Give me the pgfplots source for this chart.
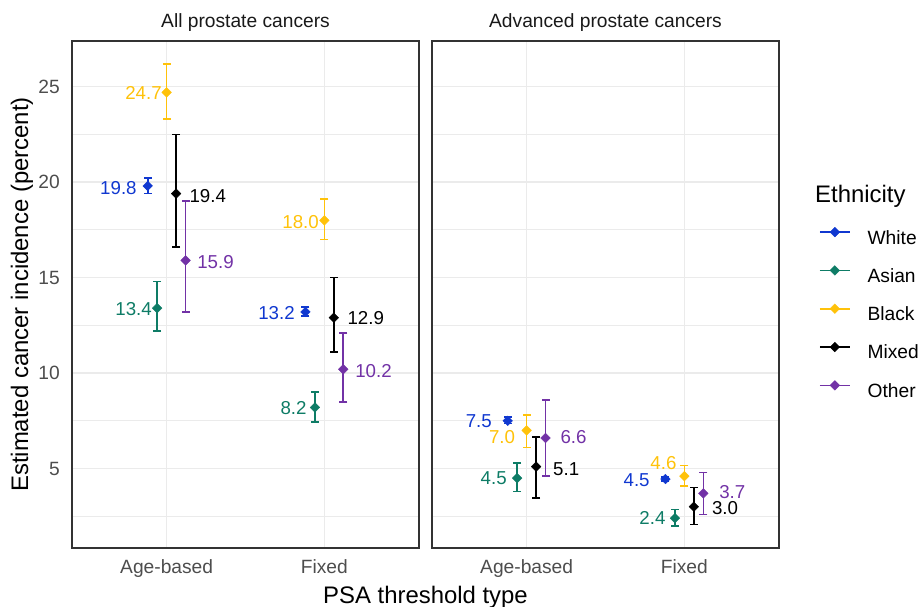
\documentclass[border=0pt]{standalone}
\usepackage{pgfplots}
\pgfplotsset{compat=1.18}
\usepackage{pgfplotstable}
\usepackage{fontspec}
\setmainfont{Liberation Sans}
\definecolor{cW}{HTML}{1038D0}
\definecolor{cA}{HTML}{0E7C66}
\definecolor{cB}{HTML}{FFC20A}
\definecolor{cM}{HTML}{000000}
\definecolor{cO}{HTML}{7232A6}
\definecolor{gridc}{HTML}{EBEBEB}
\definecolor{tickc}{HTML}{4D4D4D}
\definecolor{framec}{HTML}{333333}
\newcommand{\tickfont}{\fontsize{19.2bp}{22bp}\selectfont}
\newcommand{\titlefont}{\fontsize{23.9bp}{27bp}\selectfont}
\newcommand{\lblfont}{\fontsize{18.7bp}{21bp}\selectfont}

% point estimates: x position (dodged), all cancers, advanced cancers
\pgfplotstableread{
x    all  adv
0.88 19.8 7.5
1.88 13.2 4.45
}\tW
\pgfplotstableread{
x    all  adv
0.94 13.4 4.5
1.94 8.2  2.4
}\tA
\pgfplotstableread{
x    all  adv
1.00 24.7 7.0
2.00 18.0 4.6
}\tB
\pgfplotstableread{
x    all  adv
1.06 19.4 5.1
2.06 12.9 3.0
}\tM
\pgfplotstableread{
x    all  adv
1.12 15.9 6.6
2.12 10.2 3.7
}\tO

\tikzset{lb/.style={inner sep=0pt, text=#1}}
\pgfplotsset{
  ci/.style={forget plot, draw=#1, line width=1.6bp, solid, mark=-, mark size=4bp,
    mark options={draw=#1, solid, line width=1.6bp}},
  pts/.style={forget plot, only marks, mark=square*, mark size=3.4bp,
    mark options={rotate=45, fill=#1, draw=#1, line width=0.4bp}},
  panel/.style={
    scale only axis, width=347bp, height=507bp,
    xmin=0.4, xmax=2.6, ymin=0.84, ymax=27.39,
    xtick={1,2}, xticklabels={Age-based,Fixed},
    ytick={5,10,15,20,25}, minor ytick={2.5,7.5,12.5,17.5,22.5,27.5},
    major tick length=0pt, minor tick length=0pt,
    xmajorgrids, ymajorgrids, yminorgrids,
    major grid style={draw=gridc, line width=1.6bp},
    minor grid style={draw=gridc, line width=0.9bp},
    axis line style={draw=framec, line width=1.1bp},
    tick label style={font=\tickfont, text=tickc, inner sep=0pt},
    xticklabel style={yshift=-11.3bp},
    yticklabel style={xshift=-12bp},
    /pgf/number format/assume math mode=true,
    unbounded coords=jump,
    clip=false,
  },
}

\begin{document}
\begin{tikzpicture}[x=1bp,y=1bp]
\path[use as bounding box] (0,0) rectangle (919,607);

% ---------- left panel: all prostate cancers ----------
\begin{axis}[panel, at={(72bp,59bp)}, anchor=south west]
% 95% intervals (low, high)
\addplot[ci=cW] table {
x y
0.88 19.4
0.88 20.2
0.88 nan
1.88 13.0
1.88 13.45
};
\addplot[ci=cA] table {
x y
0.94 12.2
0.94 14.8
0.94 nan
1.94 7.45
1.94 9.0
};
\addplot[ci=cB] table {
x y
1.00 23.3
1.00 26.2
1.00 nan
2.00 17.0
2.00 19.1
};
\addplot[ci=cM] table {
x y
1.06 16.6
1.06 22.5
1.06 nan
2.06 11.1
2.06 15.0
};
\addplot[ci=cO] table {
x y
1.12 13.2
1.12 19.0
1.12 nan
2.12 8.5
2.12 12.1
};
\addplot[pts=cW] table[x=x, y=all] {\tW};
\addplot[pts=cA] table[x=x, y=all] {\tA};
\addplot[pts=cB] table[x=x, y=all] {\tB};
\addplot[pts=cM] table[x=x, y=all] {\tM};
\addplot[pts=cO] table[x=x, y=all] {\tO};
\node[lb=cB, anchor=east] at (axis cs:0.970,24.65) {\lblfont 24.7};
\node[lb=cW, anchor=east] at (axis cs:0.811,19.68) {\lblfont 19.8};
\node[lb=cM, anchor=west] at (axis cs:1.144,19.26) {\lblfont 19.4};
\node[lb=cO, anchor=west] at (axis cs:1.193,15.81) {\lblfont 15.9};
\node[lb=cA, anchor=east] at (axis cs:0.907,13.34) {\lblfont 13.4};
\node[lb=cB, anchor=east] at (axis cs:1.966,17.90) {\lblfont 18.0};
\node[lb=cW, anchor=east] at (axis cs:1.813,13.14) {\lblfont 13.2};
\node[lb=cM, anchor=west] at (axis cs:2.146,12.88) {\lblfont 12.9};
\node[lb=cO, anchor=west] at (axis cs:2.195,10.10) {\lblfont 10.2};
\node[lb=cA, anchor=east] at (axis cs:1.888,8.18) {\lblfont 8.2};
\end{axis}

% ---------- right panel: advanced prostate cancers ----------
\begin{axis}[panel, at={(432bp,59bp)}, anchor=south west, yticklabels={},
  legend style={at={(axis description cs:1.1153,0.6325)}, anchor=north west,
    draw=none, fill=none, inner sep=0pt, outer sep=0pt, column sep=17bp, row sep=17.6bp,
    font=\tickfont, nodes={inner sep=0pt, text height=14bp, text depth=4bp}},
  legend cell align=left,
  legend image code/.code={\draw[#1, line width=1.6bp] (0bp,6.9bp) -- (30bp,6.9bp);
     \path[#1] plot[mark=square*, mark size=3.4bp, mark options={rotate=45}] coordinates {(15bp,6.9bp)};},
]
\addlegendimage{color=cW, fill=cW}
\addlegendimage{color=cA, fill=cA}
\addlegendimage{color=cB, fill=cB}
\addlegendimage{color=cM, fill=cM}
\addlegendimage{color=cO, fill=cO}
\legend{White,Asian,Black,Mixed,Other}
\addplot[ci=cW] table {
x y
0.88 7.35
0.88 7.7
0.88 nan
1.88 4.35
1.88 4.55
};
\addplot[ci=cA] table {
x y
0.94 3.8
0.94 5.3
0.94 nan
1.94 2.0
1.94 2.85
};
\addplot[ci=cB] table {
x y
1.00 6.1
1.00 7.8
1.00 nan
2.00 4.1
2.00 5.15
};
\addplot[ci=cM] table {
x y
1.06 3.45
1.06 6.65
1.06 nan
2.06 2.07
2.06 4.0
};
\addplot[ci=cO] table {
x y
1.12 4.6
1.12 8.6
1.12 nan
2.12 2.6
2.12 4.8
};
\addplot[pts=cW] table[x=x, y=adv] {\tW};
\addplot[pts=cA] table[x=x, y=adv] {\tA};
\addplot[pts=cB] table[x=x, y=adv] {\tB};
\addplot[pts=cM] table[x=x, y=adv] {\tM};
\addplot[pts=cO] table[x=x, y=adv] {\tO};
\node[lb=cW, anchor=east] at (axis cs:0.780,7.48) {\lblfont 7.5};
\node[lb=cB, anchor=east] at (axis cs:0.928,6.66) {\lblfont 7.0};
\node[lb=cO, anchor=west] at (axis cs:1.214,6.63) {\lblfont 6.6};
\node[lb=cM, anchor=west] at (axis cs:1.167,4.96) {\lblfont 5.1};
\node[lb=cA, anchor=east] at (axis cs:0.875,4.49) {\lblfont 4.5};
\node[lb=cB, anchor=east] at (axis cs:1.951,5.27) {\lblfont 4.6};
\node[lb=cW, anchor=east] at (axis cs:1.781,4.40) {\lblfont 4.5};
\node[lb=cO, anchor=west] at (axis cs:2.220,3.79) {\lblfont 3.7};
\node[lb=cM, anchor=west] at (axis cs:2.174,2.92) {\lblfont 3.0};
\node[lb=cA, anchor=east] at (axis cs:1.881,2.43) {\lblfont 2.4};
\end{axis}

% ---------- titles ----------
\node[anchor=base, inner sep=0pt, font=\tickfont, text=black!90] at (245.5,579.3) {All prostate cancers};
\node[anchor=base, inner sep=0pt, font=\tickfont, text=black!90] at (605.5,579.3) {Advanced prostate cancers};
\node[anchor=base, inner sep=0pt, font=\titlefont] at (425.5,3.7) {PSA threshold type};
\node[anchor=base, inner sep=0pt, font=\titlefont, rotate=90] at (28,312.5) {Estimated cancer incidence (percent)};
\node[anchor=base west, inner sep=0pt, font=\titlefont] at (815,404.7) {Ethnicity};
\end{tikzpicture}
\end{document}
